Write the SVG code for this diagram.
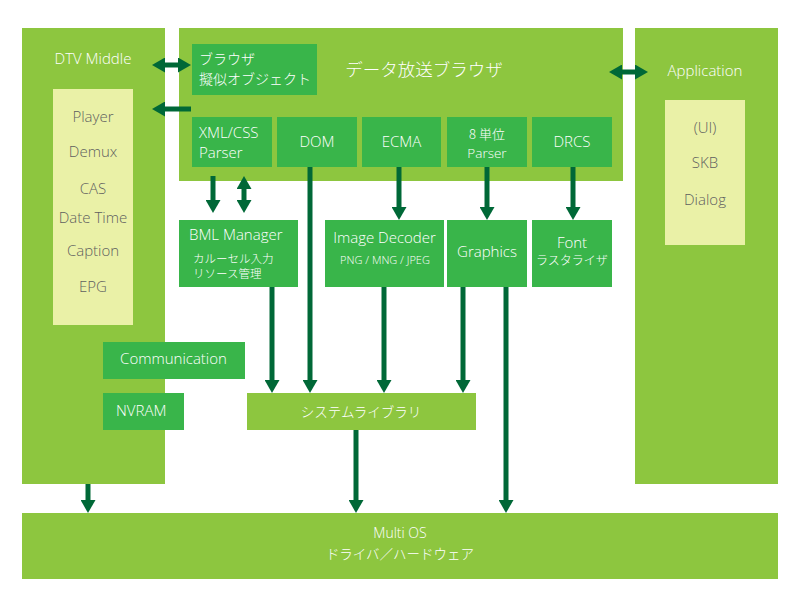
<svg xmlns="http://www.w3.org/2000/svg" width="800" height="608" viewBox="0 0 800 608">
<style>
.lg{fill:#8dc63f}
.mg{fill:#39b54a}
.py{fill:#eaf1a7}
text{font-family:"Open Sans","Noto Sans CJK JP",sans-serif;font-weight:300;fill:#ffffff}
.g{fill:#5f5f5f;font-size:15px;text-anchor:middle}
.w{font-size:15px}
.c{text-anchor:middle}
.j{font-family:"Noto Sans CJK JP",sans-serif;font-weight:300}
.cn line{stroke:#006837;stroke-width:5;fill:none}
</style>
<defs>
<marker id="ah" markerUnits="userSpaceOnUse" markerWidth="14" markerHeight="15" viewBox="0 0 14 15" refX="0" refY="7.5" orient="auto-start-reverse">
<path d="M0,0 L13,7.5 L0,15 Z" fill="#006837"/>
</marker>
</defs>
<rect width="800" height="608" fill="#ffffff"/>

<g id="dtv">
<rect class="lg" x="22" y="28" width="143" height="456"/>
<text class="w c" x="93" y="64">DTV Middle</text>
<rect class="py" x="53" y="89" width="80" height="236"/>
<text class="g" x="93" y="122">Player</text>
<text class="g" x="93" y="157">Demux</text>
<text class="g" x="93" y="194">CAS</text>
<text class="g" x="93" y="223">Date Time</text>
<text class="g" x="93" y="256">Caption</text>
<text class="g" x="93" y="292">EPG</text>
</g>

<g id="browser">
<rect class="lg" x="179" y="28" width="444" height="153"/>
<text class="c j" x="424" y="76" font-size="17.5">データ放送ブラウザ</text>
</g>

<g id="pseudo">
<rect class="mg" x="192" y="44" width="125" height="51"/>
<text class="j" x="199" y="64" font-size="14">ブラウザ</text>
<text class="j" x="199" y="84" font-size="14">擬似オブジェクト</text>
</g>

<g id="xml">
<rect class="mg" x="192" y="117" width="80" height="50"/>
<text class="w" x="199" y="138">XML/CSS</text>
<text class="w" x="199" y="158">Parser</text>
</g>
<g id="dom">
<rect class="mg" x="277" y="117" width="80" height="50"/>
<text class="w c" x="317" y="147">DOM</text>
</g>
<g id="ecma">
<rect class="mg" x="362" y="117" width="79" height="50"/>
<text class="w c" x="401.5" y="147">ECMA</text>
</g>
<g id="parser8">
<rect class="mg" x="447" y="117" width="80" height="50"/>
<text class="c j" x="487" y="139" font-size="13">8 単位</text>
<text class="c" x="487" y="158" font-size="13.5">Parser</text>
</g>
<g id="drcs">
<rect class="mg" x="532" y="117" width="80" height="50"/>
<text class="w c" x="572" y="147">DRCS</text>
</g>

<g id="app">
<rect class="lg" x="635" y="28" width="143" height="456"/>
<text class="w c" x="705" y="76">Application</text>
<rect class="py" x="665" y="100" width="80" height="145"/>
<text class="g" x="705" y="133">(UI)</text>
<text class="g" x="705" y="168">SKB</text>
<text class="g" x="705" y="205">Dialog</text>
</g>

<g id="bml">
<rect class="mg" x="179" y="220" width="119" height="67"/>
<text class="w" x="189" y="240">BML Manager</text>
<text class="j" x="193" y="263" font-size="11.5">カルーセル入力</text>
<text class="j" x="193" y="278" font-size="11.5">リソース管理</text>
</g>
<g id="imgdec">
<rect class="mg" x="325" y="220" width="119" height="67"/>
<text class="w c" x="384.5" y="243">Image Decoder</text>
<text class="c" x="385" y="264" font-size="11">PNG / MNG / JPEG</text>
</g>
<g id="graphics">
<rect class="mg" x="447" y="220" width="80" height="67"/>
<text class="w c" x="487" y="257">Graphics</text>
</g>
<g id="font">
<rect class="mg" x="532" y="220" width="80" height="67"/>
<text class="w c" x="572" y="248">Font</text>
<text class="c j" x="572" y="265" font-size="12">ラスタライザ</text>
</g>

<g id="comm">
<rect class="mg" x="103" y="342" width="142" height="37"/>
<text class="w c" x="173.5" y="364">Communication</text>
</g>
<g id="nvram">
<rect class="mg" x="103" y="393" width="81" height="37"/>
<text class="w" x="116" y="416">NVRAM</text>
</g>

<g id="syslib">
<rect class="lg" x="247" y="393" width="229" height="37"/>
<text class="c j" x="361" y="417" font-size="13.5">システムライブラリ</text>
</g>

<g id="multios">
<rect class="lg" x="22" y="513" width="756" height="66"/>
<text class="c" x="400" y="538" font-size="14">Multi OS</text>
<text class="c j" x="400" y="559" font-size="13.5">ドライバ／ハードウェア</text>
</g>

<g id="connectors" class="cn">
<line x1="165" y1="65" x2="178" y2="65" marker-start="url(#ah)" marker-end="url(#ah)"/>
<line x1="191" y1="109" x2="165" y2="109" marker-end="url(#ah)"/>
<line x1="622" y1="72" x2="635" y2="72" marker-start="url(#ah)" marker-end="url(#ah)"/>
<line x1="213" y1="176" x2="213" y2="200" marker-end="url(#ah)"/>
<line x1="244" y1="189" x2="244" y2="200" marker-start="url(#ah)" marker-end="url(#ah)"/>
<line x1="399" y1="167" x2="399" y2="207" marker-end="url(#ah)"/>
<line x1="487" y1="167" x2="487" y2="207" marker-end="url(#ah)"/>
<line x1="573" y1="167" x2="573" y2="207" marker-end="url(#ah)"/>
<line x1="272" y1="287" x2="272" y2="380" marker-end="url(#ah)"/>
<line x1="310" y1="167" x2="310" y2="380" marker-end="url(#ah)"/>
<line x1="384" y1="287" x2="384" y2="380" marker-end="url(#ah)"/>
<line x1="463" y1="287" x2="463" y2="380" marker-end="url(#ah)"/>
<line x1="506" y1="287" x2="506" y2="500" marker-end="url(#ah)"/>
<line x1="356" y1="430" x2="356" y2="500" marker-end="url(#ah)"/>
<line x1="88" y1="484" x2="88" y2="500" marker-end="url(#ah)"/>
</g>
</svg>
